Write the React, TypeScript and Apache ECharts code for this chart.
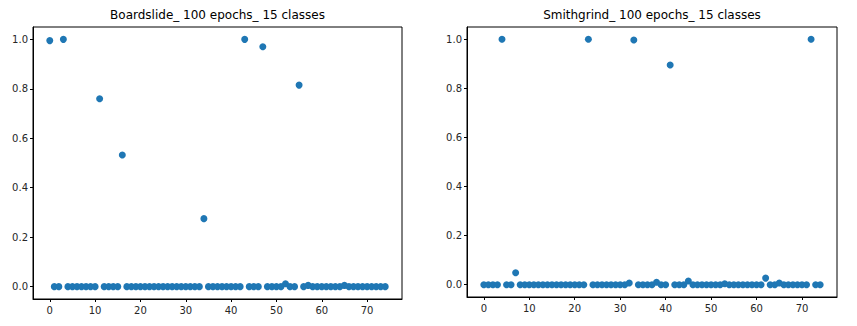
import React, { useEffect, useRef } from "react";
import * as echarts from "echarts";

const leftTitle = "Boardslide_ 100 epochs_ 15 classes";
const rightTitle = "Smithgrind_ 100 epochs_ 15 classes";

const leftValues = [
  0.995, 0, 0, 1.0, 0, 0, 0, 0, 0, 0,
  0, 0.76, 0, 0, 0, 0, 0.532, 0, 0, 0,
  0, 0, 0, 0, 0, 0, 0, 0, 0, 0,
  0, 0, 0, 0, 0.275, 0, 0, 0, 0, 0,
  0, 0, 0, 1.0, 0, 0, 0, 0.97, 0, 0,
  0, 0, 0.012, 0, 0, 0.815, 0, 0.005, 0, 0,
  0, 0, 0, 0, 0, 0.005, 0, 0, 0, 0,
  0, 0, 0, 0, 0,
];

const rightValues = [
  0, 0, 0, 0, 1.0, 0, 0, 0.049, 0, 0,
  0, 0, 0, 0, 0, 0, 0, 0, 0, 0,
  0, 0, 0, 1.0, 0, 0, 0, 0, 0, 0,
  0, 0, 0.007, 0.997, 0, 0, 0, 0, 0.01, 0,
  0, 0.895, 0, 0, 0, 0.015, 0, 0, 0, 0,
  0, 0, 0, 0.004, 0, 0, 0, 0, 0, 0,
  0, 0, 0.027, 0, 0, 0.007, 0, 0, 0, 0,
  0, 0, 1.0, 0, 0,
];

const xTicks = [0, 10, 20, 30, 40, 50, 60, 70];
const yTicks = [0, 0.2, 0.4, 0.6, 0.8, 1.0];

const FONT = "DejaVu Sans";
const COLOR = "#1f77b4";
const TEXT = "#262626";

export default function App() {
  const ref = useRef<HTMLDivElement>(null);
  useEffect(() => {
    if (!ref.current) return;
    const chart = echarts.init(ref.current, null, { renderer: "svg" });
    const grids = [
      { left: 33, top: 27, width: 369, height: 272 },
      { left: 467, top: 27, width: 370, height: 270 },
    ];
    const mkX = (i: number) => ({
      type: "value",
      gridIndex: i,
      min: -3.7,
      max: 77.7,
      splitLine: { show: false },
      axisLine: { show: true, onZero: false, lineStyle: { color: "#000", width: 1 } },
      axisTick: { show: true, length: 3, customValues: xTicks, lineStyle: { color: "#000" } },
      axisLabel: { customValues: xTicks, color: TEXT, fontFamily: FONT, fontSize: 10, margin: 6 },
    });
    const mkY = (i: number) => ({
      type: "value",
      gridIndex: i,
      min: -0.05,
      max: 1.05,
      splitLine: { show: false },
      axisLine: { show: true, onZero: false, lineStyle: { color: "#000", width: 1 } },
      axisTick: { show: true, length: 3, customValues: yTicks, lineStyle: { color: "#000" } },
      axisLabel: {
        customValues: yTicks,
        color: TEXT,
        fontFamily: FONT,
        fontSize: 10,
        margin: 5,
        formatter: (v: number) => v.toFixed(1),
      },
    });
    const toData = (arr: number[]) => arr.map((v, i) => [i, v]);
    chart.setOption({
      animation: false,
      backgroundColor: "#fff",
      grid: grids.map((g) => ({ ...g, show: true, borderColor: "#000", borderWidth: 1, backgroundColor: "transparent" })),
      xAxis: [mkX(0), mkX(1)],
      yAxis: [mkY(0), mkY(1)],
      graphic: [
        {
          type: "text",
          x: 33 + 369 / 2,
          y: 15,
          style: { text: leftTitle, textAlign: "center", textVerticalAlign: "middle", font: `12px "${FONT}"`, fill: "#000" },
        },
        {
          type: "text",
          x: 467 + 370 / 2,
          y: 15,
          style: { text: rightTitle, textAlign: "center", textVerticalAlign: "middle", font: `12px "${FONT}"`, fill: "#000" },
        },
      ],
      series: [
        {
          type: "scatter",
          xAxisIndex: 0,
          yAxisIndex: 0,
          data: toData(leftValues),
          symbolSize: 7,
          itemStyle: { color: COLOR, opacity: 1 },
        },
        {
          type: "scatter",
          xAxisIndex: 1,
          yAxisIndex: 1,
          data: toData(rightValues),
          symbolSize: 7,
          itemStyle: { color: COLOR, opacity: 1 },
        },
      ],
    });
    return () => chart.dispose();
  }, []);
  return (
    <div
      ref={ref}
      style={{ position: "absolute", left: 0, top: 0, width: 857, height: 326 }}
    />
  );
}
